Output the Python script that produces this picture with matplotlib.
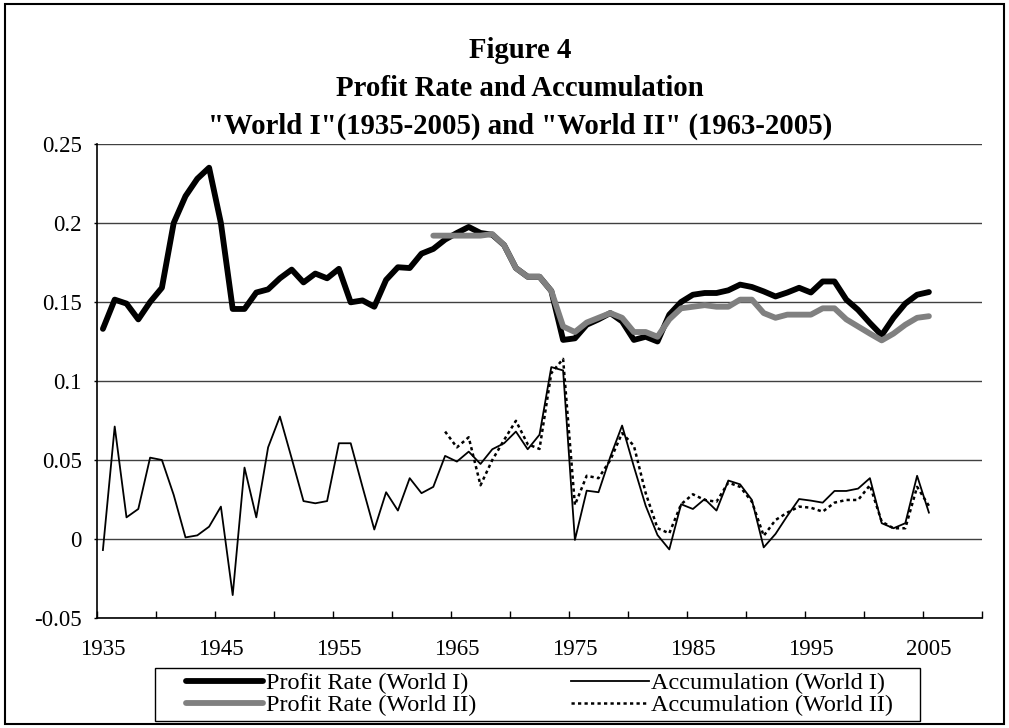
import numpy as np
import matplotlib
matplotlib.use('Agg')
import matplotlib.pyplot as plt
from matplotlib.patches import Rectangle

plt.rcParams['font.family'] = ['Liberation Serif', 'DejaVu Serif']

#%% data
years_w1 = np.arange(1935, 2006)
profit_w1 = [0.133, 0.1515, 0.149, 0.139, 0.150, 0.159, 0.200, 0.217, 0.228, 0.235,
             0.200, 0.1456, 0.1456, 0.156, 0.158, 0.165, 0.1705, 0.1624, 0.168, 0.165,
             0.171, 0.1498, 0.151, 0.147, 0.164, 0.172, 0.1715, 0.1806, 0.1836, 0.1895,
             0.1937, 0.1975, 0.1937, 0.1926, 0.186, 0.1715, 0.166, 0.166, 0.157, 0.126,
             0.127, 0.1356, 0.139, 0.143, 0.1377, 0.126, 0.128, 0.125, 0.142, 0.150,
             0.1546, 0.1557, 0.1557, 0.1574, 0.161, 0.1595, 0.1567, 0.1535, 0.156, 0.159,
             0.156, 0.163, 0.163, 0.1515, 0.145, 0.1367, 0.129, 0.140, 0.149, 0.1546,
             0.1563]
accum_w1 = [-0.007, 0.0712, 0.0137, 0.019, 0.0515, 0.050, 0.0279, 0.001, 0.0023, 0.0078,
            0.0205, -0.0355, 0.0452, 0.0137, 0.058, 0.0775, 0.051, 0.024, 0.0226, 0.024,
            0.0606, 0.0606, 0.033, 0.006, 0.0296, 0.018, 0.0385, 0.029, 0.033, 0.0526,
            0.049, 0.0553, 0.0475, 0.0568, 0.0606, 0.068, 0.0568, 0.066, 0.1088, 0.1067,
            -0.0006, 0.0306, 0.0296, 0.052, 0.0718, 0.0458, 0.021, 0.0025, -0.0066, 0.022,
            0.019, 0.0253, 0.018, 0.037, 0.0346, 0.0247, -0.0053, 0.0032, 0.0146, 0.0253,
            0.0243, 0.023, 0.0304, 0.0304, 0.0319, 0.0385, 0.010, 0.0068, 0.010, 0.040,
            0.0167]

years_pw2 = np.arange(1963, 2006)
profit_w2 = [0.192, 0.192, 0.192, 0.192, 0.192, 0.193, 0.186, 0.1715, 0.166, 0.166,
             0.157, 0.1345, 0.131, 0.137, 0.140, 0.143, 0.140, 0.131, 0.131, 0.128,
             0.139, 0.146, 0.147, 0.148, 0.147, 0.147, 0.1515, 0.1515, 0.143, 0.140,
             0.142, 0.142, 0.142, 0.146, 0.146, 0.139, 0.1345, 0.130, 0.1257, 0.130,
             0.1356, 0.140, 0.141]

years_aw2 = np.arange(1964, 2006)
accum_w2 = [0.068, 0.058, 0.0644, 0.034, 0.05, 0.0627, 0.0748, 0.06, 0.057, 0.105,
            0.114, 0.0215, 0.04, 0.0385, 0.05, 0.067, 0.059, 0.029, 0.0068, 0.0036,
            0.022, 0.0283, 0.0247, 0.0236, 0.0357, 0.033, 0.0236, 0.002, 0.012, 0.0167,
            0.0205, 0.0198, 0.0173, 0.023, 0.0247, 0.0247, 0.034, 0.011, 0.0068, 0.0068,
            0.033, 0.021]

label_years = np.arange(1935, 2006, 10)
y_ticks = [-0.05, 0, 0.05, 0.1, 0.15, 0.2, 0.25]
y_labels = ['-0.05', '0', '0.05', '0.1', '0.15', '0.2', '0.25']

title_lines = ['Figure 4', 'Profit Rate and Accumulation',
               '"World I"(1935-2005) and "World II" (1963-2005)']

W, H = 1009, 728

#%% plot
fig = plt.figure(figsize=(W / 100, H / 100), dpi=100)
ax = fig.add_axes([97 / W, 1 - 618 / H, 885 / W, 474 / H])

ax.plot(years_w1, profit_w1, color='black', lw=4.2, solid_joinstyle='round',
        solid_capstyle='round', label='Profit Rate (World I)', zorder=3)
ax.plot(years_pw2, profit_w2, color='#808080', lw=4.2, solid_joinstyle='round',
        solid_capstyle='round', label='Profit Rate (World II)', zorder=4)
ax.plot(years_w1, accum_w1, color='black', lw=1.3,
        label='Accumulation (World I)', zorder=3)
ax.plot(years_aw2, accum_w2, color='black', lw=1.8, linestyle=(0, (1.3, 1.3)),
        label='Accumulation (World II)', zorder=4)

ax.set_xlim(1934.5, 2009.5)
ax.set_ylim(-0.05, 0.25)

# tick marks between categories every 5 years, labels every 10
ax.set_xticks(np.arange(1934.5, 2010, 5))
ax.set_xticklabels([])
ax.tick_params(axis='x', which='major', direction='in', length=5, width=1)
ax.set_xticks(label_years, minor=True)
ax.set_xticklabels([str(y) for y in label_years], minor=True)
ax.tick_params(axis='x', which='minor', length=0, pad=15, labelsize=16.5)

ax.set_yticks(y_ticks)
ax.set_yticklabels(y_labels)
ax.tick_params(axis='y', direction='out', length=2.5, width=1, labelsize=16.5, pad=8.5)

ax.yaxis.grid(True, color='#404040', lw=1.0)
ax.set_axisbelow(True)
for s in ['top', 'right']:
    ax.spines[s].set_visible(False)
for s in ['left', 'bottom']:
    ax.spines[s].set_linewidth(1.2)
    ax.spines[s].set_zorder(5)

for i, line in enumerate(title_lines):
    fig.text(520 / W, 1 - (50 + 38 * i) / H, line, ha='center', va='center',
             fontsize=20.7, fontweight='bold')

# legend: frame drawn separately so the side padding can be wider than the top
leg = fig.legend(loc='center', bbox_to_anchor=(539.5 / W, 1 - 694.5 / H), ncol=2,
                 fontsize=17.5, frameon=False, handlelength=3.2, handletextpad=0.1,
                 columnspacing=3.9, labelspacing=0.0, borderpad=0, borderaxespad=0)
fig.patches.append(Rectangle((155 / W, 1 - 721 / H), 765 / W, 53 / H,
                             transform=fig.transFigure, fill=False,
                             edgecolor='black', lw=1.0))

fig.patches.append(Rectangle((0.005, 0.006), 0.99, 0.988, transform=fig.transFigure,
                             fill=False, edgecolor='black', lw=1.5))

plt.savefig('out.png', dpi=100)
